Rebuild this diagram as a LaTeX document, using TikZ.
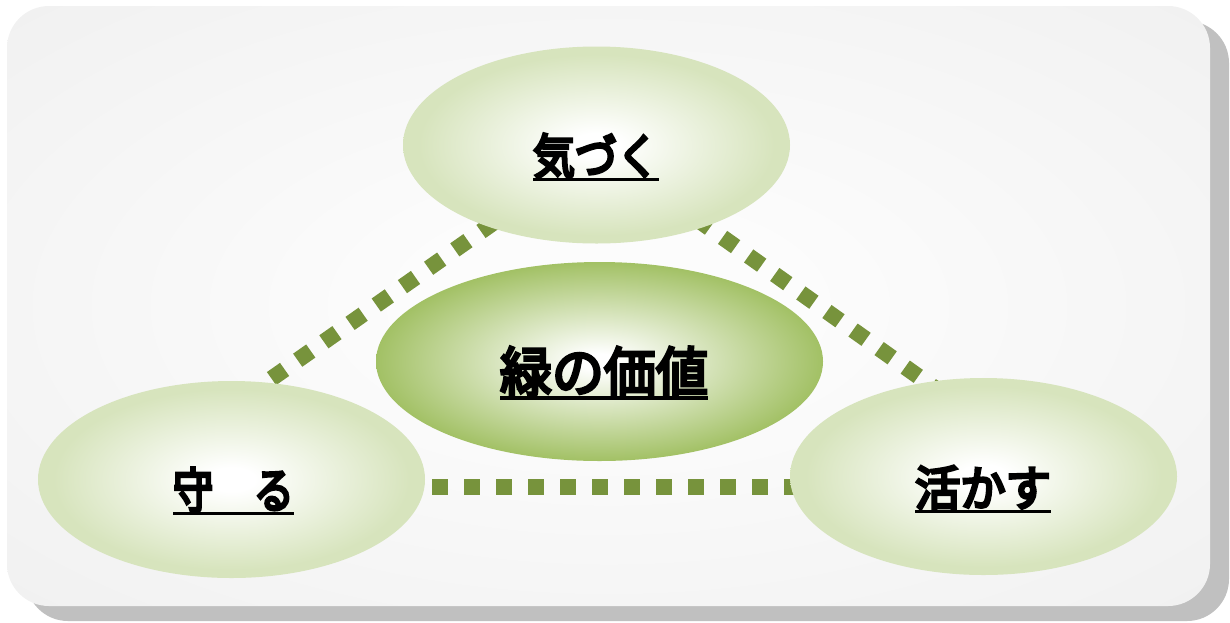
\documentclass[tikz,border=0pt]{standalone}
\usepackage{fontspec}
\newfontfamily\cjk{Noto Sans CJK JP}
\usetikzlibrary{shapes.geometric}
\definecolor{dotgreen}{HTML}{77933C}
\definecolor{lightgreen}{HTML}{D7E4BD}
\definecolor{midgreen}{HTML}{9EBE5E}
\definecolor{panel}{HTML}{F1F1F1}
\definecolor{panelc}{HTML}{FCFCFC}
\definecolor{shadowgray}{HTML}{C0C0C0}
\pgfdeclareradialshading{glowlight}{\pgfpoint{0bp}{0bp}}{color(0bp)=(white); color(3bp)=(white); color(23bp)=(lightgreen); color(50bp)=(lightgreen)}
\pgfdeclareradialshading{glowmid}{\pgfpoint{0bp}{0bp}}{color(0bp)=(white); color(2bp)=(white); color(26bp)=(midgreen); color(50bp)=(midgreen)}
\pgfdeclareradialshading{panelglow}{\pgfpoint{0bp}{0bp}}{color(0bp)=(panelc); color(8bp)=(panelc); color(35bp)=(panel); color(50bp)=(panel)}
\newcommand\heavy[1]{\special{pdf:literal direct 2 Tr 3 w}#1\special{pdf:literal direct 0 Tr 1 w}}
\newcommand\jul[1]{\sbox0{\heavy{#1}}\rlap{\usebox0}\rule[-0.14em]{\wd0}{0.06em}}
\tikzset{
  lightell/.style={ellipse, inner sep=0pt, shading=glowlight, minimum width=387pt, minimum height=197pt},
  midell/.style={ellipse, inner sep=0pt, shading=glowmid, minimum width=447pt, minimum height=199pt},
  dotline/.style={draw=dotgreen, line width=16pt, dash pattern=on 16pt off 16pt},
  smalltxt/.style={anchor=base, inner sep=0pt, font=\cjk\fontsize{48pt}{48pt}\selectfont},
  bigtxt/.style={anchor=base, inner sep=0pt, font=\cjk\fontsize{54pt}{54pt}\selectfont}
}
\begin{document}
\begin{tikzpicture}[x=1pt, y=-1pt]
\useasboundingbox (0,0) rectangle (1230,622);
% panel with shadow
\fill[shadowgray, rounded corners=42pt] (26,21) rectangle (1229,621);
\shade[shading=panelglow, rounded corners=42pt] (7,6) rectangle (1210,606);
% connector end points
\coordinate (lA) at (271.5,378.6);
\coordinate (lB) at (597,150);
\coordinate (rA) at (618.2,163.3);
\coordinate (rB) at (960,406);
\coordinate (hA) at (432,487);
\coordinate (hB) at (800,487);
\draw[dotline] (lA) -- (lB);
\draw[dotline] (rA) -- (rB);
\draw[dotline] (hA) -- (hB);
% ellipses
\node[lightell] (kizuku) at (596.5,145) {};
\node[lightell] (mamoru) at (231.5,479.5) {};
\node[lightell] (ikasu) at (983.5,476.5) {};
\node[midell] (midori) at (599.5,361.5) {};
% labels
\node[smalltxt] (kizukuT) at (596,174) {\scalebox{0.875}[1]{\jul{気づく}}};
\node[smalltxt] (mamoruT) at (233.5,508) {\scalebox{0.84}[1]{\jul{守　る}}};
\node[smalltxt] (ikasuT) at (983,506) {\scalebox{0.944}[1]{\jul{活かす}}};
\node[bigtxt] (midoriT) at (604,392) {\scalebox{0.963}[1]{\jul{緑の価値}}};
\end{tikzpicture}
\end{document}
